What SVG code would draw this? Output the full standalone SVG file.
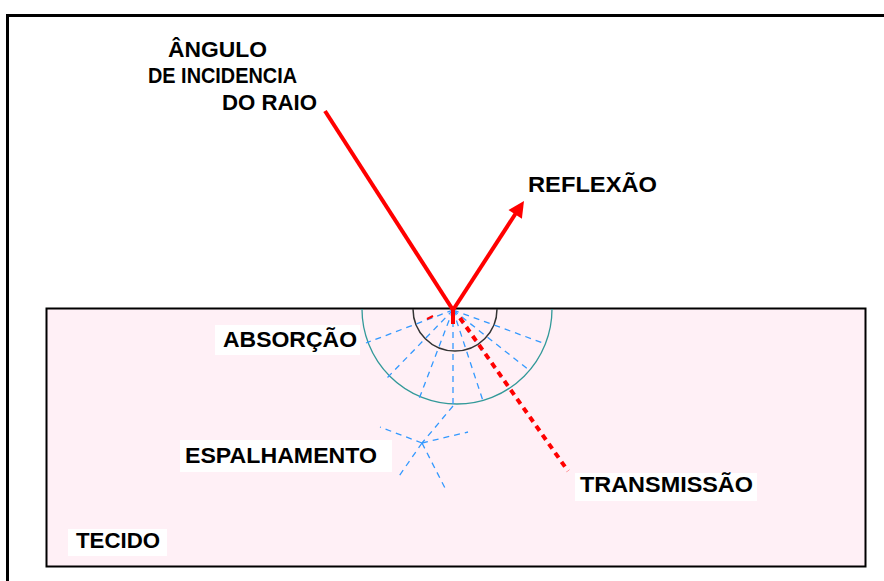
<svg xmlns="http://www.w3.org/2000/svg" width="884" height="581" viewBox="0 0 884 581">
<style>
.lbl{font-family:"Liberation Sans",Arial,sans-serif;font-size:21.5px;font-weight:bold;fill:#000}
.bg{fill:#fff}
.blue{stroke:#3399ff;stroke-width:1.3;stroke-dasharray:6 5;fill:none}
.red{stroke:#ff0000;stroke-width:4;fill:none;stroke-linecap:butt}
</style>
<rect width="884" height="581" fill="#fff"/>
<path d="M7.5,581 V15.5 H884" fill="none" stroke="#000" stroke-width="3"/>
<g id="tecido">
<rect x="46.5" y="308.5" width="819" height="258" fill="#fff0f6" stroke="#000" stroke-width="2"/>
<rect class="bg" x="68" y="529" width="99" height="27"/>
<text class="lbl" x="76" y="548" textLength="84" lengthAdjust="spacingAndGlyphs">TECIDO</text>
</g>
<g id="absorcao">
<path d="M362,309 A95,95 0 0 0 552,309" fill="none" stroke="#339999" stroke-width="1.3"/>
<path d="M413,309 A42,42 0 0 0 497,309" fill="none" stroke="#333" stroke-width="1.5"/>
<rect class="bg" x="215" y="325" width="145" height="30"/>
<text class="lbl" x="223" y="347" textLength="134" lengthAdjust="spacingAndGlyphs">ABSORÇÃO</text>
</g>
<g id="connectors">
<g class="blue">
<line x1="453" y1="310" x2="543" y2="343"/>
<line x1="453" y1="310" x2="529" y2="370"/>
<line x1="453" y1="310" x2="510" y2="389"/>
<line x1="453" y1="310" x2="483" y2="401"/>
<line x1="453" y1="310" x2="453" y2="406"/>
<line x1="453" y1="310" x2="419" y2="399"/>
<line x1="453" y1="310" x2="387" y2="378"/>
<line x1="453" y1="310" x2="366" y2="343"/>
<line x1="453" y1="406" x2="422" y2="443"/>
<line x1="422" y1="443" x2="380" y2="427"/>
<line x1="422" y1="443" x2="468" y2="432"/>
<line x1="422" y1="443" x2="397" y2="479"/>
<line x1="422" y1="443" x2="446" y2="490"/>
</g>
<line class="red" x1="325" y1="111" x2="453" y2="310"/>
<line class="red" x1="453" y1="310" x2="516" y2="213"/>
<polygon points="524,201 521.9,218.8 508.5,210" fill="#ff0000"/>
<line class="red" x1="453" y1="310" x2="453" y2="324" stroke-width="2"/>
<line x1="427" y1="319" x2="433" y2="316" stroke="#ff0000" stroke-width="2"/>
<line class="red" x1="460" y1="318" x2="568" y2="471" stroke-dasharray="6 5"/>
</g>
<g id="angulo">
<text class="lbl" x="168" y="57" textLength="99" lengthAdjust="spacingAndGlyphs">ÂNGULO</text>
<text class="lbl" x="148" y="83" textLength="149" lengthAdjust="spacingAndGlyphs">DE INCIDENCIA</text>
<text class="lbl" x="222" y="110" textLength="95" lengthAdjust="spacingAndGlyphs">DO RAIO</text>
</g>
<g id="reflexao">
<text class="lbl" x="528" y="192" textLength="129" lengthAdjust="spacingAndGlyphs">REFLEXÃO</text>
</g>
<g id="espalhamento">
<rect class="bg" x="180" y="440" width="212" height="32"/>
<text class="lbl" x="185" y="463" textLength="192" lengthAdjust="spacingAndGlyphs">ESPALHAMENTO</text>
</g>
<g id="transmissao">
<rect class="bg" x="575" y="473" width="182" height="28"/>
<text class="lbl" x="580" y="492" textLength="173" lengthAdjust="spacingAndGlyphs">TRANSMISSÃO</text>
</g>
</svg>
